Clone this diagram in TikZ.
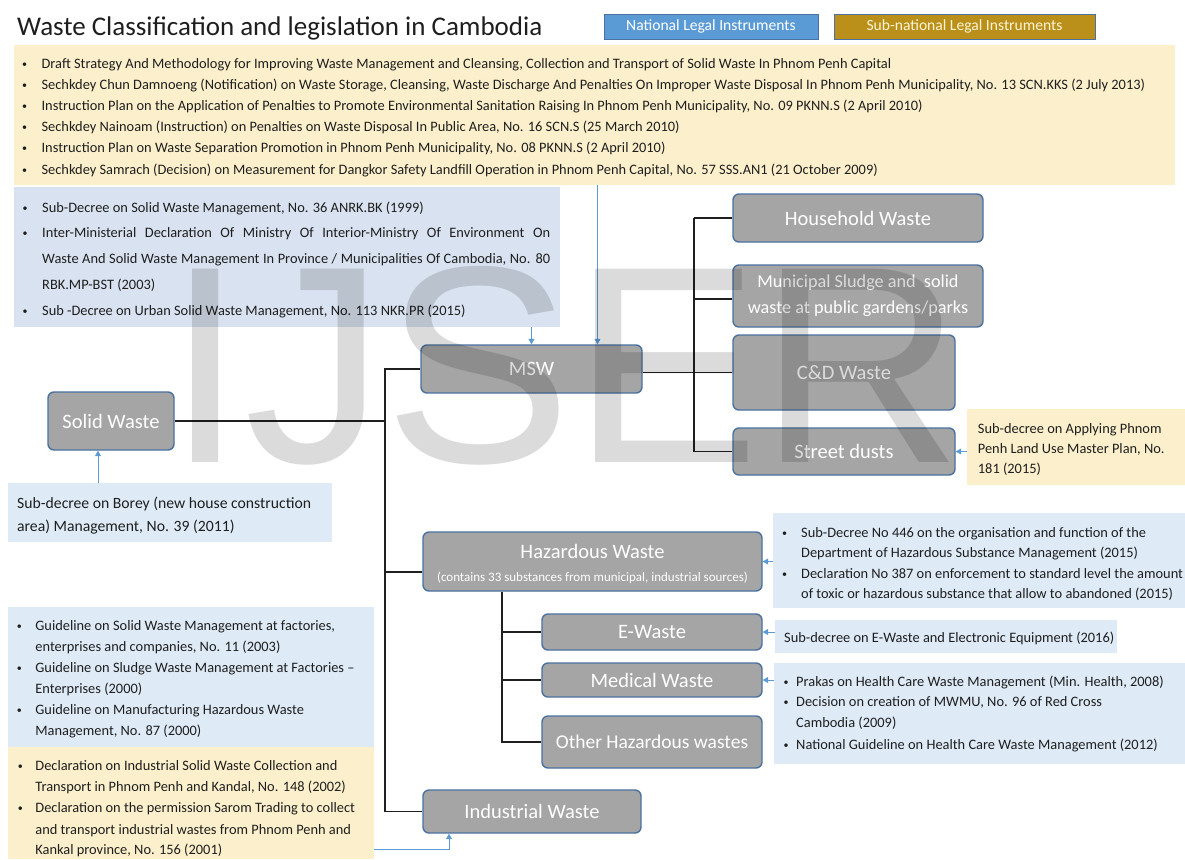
\documentclass[tikz,border=0pt]{standalone}
\usepackage{fontspec}
\setmainfont{Carlito}
\newfontfamily\wmfont{Liberation Sans}
\usetikzlibrary{arrows.meta}

\definecolor{boxgray}{HTML}{A5A5A5}
\definecolor{boxedge}{HTML}{4A71A0}
\definecolor{natblue}{HTML}{DEEBF7}
\definecolor{natgray}{HTML}{D9E2F0}
\definecolor{subbeige}{HTML}{FCF0CC}
\definecolor{linkblue}{HTML}{5B9BD5}
\definecolor{legblue}{HTML}{5B9BD5}
\definecolor{leggold}{HTML}{BA901A}
\definecolor{legtext}{HTML}{FFF5D6}
\definecolor{ink}{HTML}{1E1E1E}

% small bullet hanging to the left of a text line
\newcommand\bu[1]{\llap{\raisebox{1pt}{\fontsize{10}{10}\selectfont\textbullet}\hspace{#1}}}

\begin{document}
\begin{tikzpicture}[x=1pt,y=-1pt,
  wbox/.style={draw=boxedge, fill=boxgray, line width=1.4pt, rounded corners=6pt,
    text=white, inner sep=0pt, font=\fontsize{20.5}{24}\selectfont},
  lawbox/.style={fill=#1, draw=none, inner sep=0pt},
  legend/.style={fill=#1, draw=boxedge, line width=0.8pt, inner sep=0pt,
    font=\fontsize{15.6}{18}\selectfont},
  txt/.style={anchor=base west, inner sep=0pt, text=ink, font=\fontsize{14.4}{17}\selectfont},
  lbl/.style={anchor=base, inner sep=0pt, text=white},
  link/.style={draw=black!88, line width=1.1pt},
  cite/.style={draw=linkblue, line width=0.8pt, -{Triangle[length=5.5pt,width=6pt]}},
]
\useasboundingbox (0,0) rectangle (1185,859);
\fill[white] (0,0) rectangle (1185,859);

% ---- title and legend
\node[anchor=base west, inner sep=0pt, text=ink, font=\fontsize{27}{30}\selectfont]
  (title) at (17,36) {Waste Classification and legislation in Cambodia};
\node[legend=legblue, text=white, minimum width=214, minimum height=25]
  (leg-nat) at (711,26.5) {National Legal Instruments};
\node[legend=leggold, text=legtext, minimum width=261, minimum height=25]
  (leg-sub) at (964.5,26.5) {Sub-national Legal Instruments};

% ---- legal instrument panels
\node[lawbox=subbeige, minimum width=1161, minimum height=140] (pp-law) at (594.5,115) {};
\node[lawbox=natgray, minimum width=546, minimum height=140] (nat-law) at (287,257) {};
\node[lawbox=natblue, minimum width=324, minimum height=59] (borey) at (170,512.5) {};
\node[lawbox=subbeige, minimum width=218, minimum height=76] (landuse) at (1076,447) {};
\node[lawbox=natblue, minimum width=412, minimum height=95] (haz-law) at (979,560.5) {};
\node[lawbox=natblue, minimum width=342, minimum height=33] (ew-law) at (946,636.5) {};
\node[lawbox=natblue, minimum width=411, minimum height=101] (med-law) at (979.5,713.5) {};
\node[lawbox=natblue, minimum width=366, minimum height=140] (guide-law) at (191,677) {};
\node[lawbox=subbeige, minimum width=366, minimum height=112] (ind-law) at (191,803) {};

% Phnom Penh instruments
\node[txt] (pp1) at (41.4,68) {\bu{14.5pt}Draft Strategy And Methodology for Improving Waste Management and Cleansing, Collection and Transport of Solid Waste In Phnom Penh Capital};
\node[txt] (pp2) at (41.4,89.2) {\bu{14.5pt}Sechkdey Chun Damnoeng (Notification) on Waste Storage, Cleansing, Waste Discharge And Penalties On Improper Waste Disposal In Phnom Penh Municipality, No. 13 SCN.KKS (2 July 2013)};
\node[txt] (pp3) at (41.4,110.4) {\bu{14.5pt}Instruction Plan on the Application of Penalties to Promote Environmental Sanitation Raising In Phnom Penh Municipality, No. 09 PKNN.S (2 April 2010)};
\node[txt] (pp4) at (41.4,131.6) {\bu{14.5pt}Sechkdey Nainoam (Instruction) on Penalties on Waste Disposal In Public Area, No. 16 SCN.S (25 March 2010)};
\node[txt] (pp5) at (41.4,152.8) {\bu{14.5pt}Instruction Plan on Waste Separation Promotion in Phnom Penh Municipality, No. 08 PKNN.S (2 April 2010)};
\node[txt] (pp6) at (41.4,174) {\bu{14.5pt}Sechkdey Samrach (Decision) on Measurement for Dangkor Safety Landfill Operation in Phnom Penh Capital, No. 57 SSS.AN1 (21 October 2009)};

% national instruments on municipal solid waste
\node[txt] (nat1) at (42,212) {\bu{14.5pt}Sub-Decree on Solid Waste Management, No. 36 ANRK.BK (1999)};
\node[txt] (nat2) at (42,237.5) {\bu{14.5pt}\makebox[508pt][s]{Inter-Ministerial Declaration Of Ministry Of Interior-Ministry Of Environment On}};
\node[txt] (nat3) at (42,263.5) {\makebox[508pt][s]{Waste And Solid Waste Management In Province / Municipalities Of Cambodia, No. 80}};
\node[txt] (nat4) at (42,289) {RBK.MP-BST (2003)};
\node[txt] (nat5) at (42,315) {\bu{14.5pt}Sub -Decree on Urban Solid Waste Management, No. 113 NKR.PR (2015)};

% Borey
\node[txt, font=\fontsize{15.7}{19}\selectfont] (bor1) at (17,508) {Sub-decree on Borey (new house construction};
\node[txt, font=\fontsize{15.7}{19}\selectfont] (bor2) at (17,531) {area) Management, No. 39 (2011)};

% land use master plan
\node[txt] (lu1) at (977.7,433) {Sub-decree on Applying Phnom};
\node[txt] (lu2) at (977.7,453) {Penh Land Use Master Plan, No.};
\node[txt] (lu3) at (977.7,473.5) {181 (2015)};

% hazardous substances
\node[txt] (hl1) at (801,537) {\bu{14pt}Sub-Decree No 446 on the organisation and function of the};
\node[txt] (hl2) at (801,557) {Department of Hazardous Substance Management (2015)};
\node[txt] (hl3) at (801,578) {\bu{14pt}Declaration No 387 on enforcement to standard level the amount};
\node[txt] (hl4) at (801,598) {of toxic or hazardous substance that allow to abandoned (2015)};

% e-waste
\node[txt] (el1) at (784,642) {Sub-decree on E-Waste and Electronic Equipment (2016)};

% medical waste
\node[txt] (ml1) at (796,686) {\bu{7.5pt}Prakas on Health Care Waste Management (Min. Health, 2008)};
\node[txt] (ml2) at (796,706.5) {\bu{7.5pt}Decision on creation of MWMU, No. 96 of Red Cross};
\node[txt] (ml3) at (796,727) {Cambodia (2009)};
\node[txt] (ml4) at (796,749) {\bu{7.5pt}National Guideline on Health Care Waste Management (2012)};

% industrial guidelines
\node[txt] (gl1) at (35.2,630) {\bu{13.5pt}Guideline on Solid Waste Management at factories,};
\node[txt] (gl2) at (35.2,651) {enterprises and companies, No. 11 (2003)};
\node[txt] (gl3) at (35.2,672) {\bu{13.5pt}Guideline on Sludge Waste Management at Factories --};
\node[txt] (gl4) at (35.2,693) {Enterprises (2000)};
\node[txt] (gl5) at (35.2,714) {\bu{13.5pt}Guideline on Manufacturing Hazardous Waste};
\node[txt] (gl6) at (35.2,735) {Management, No. 87 (2000)};

% industrial declarations
\node[txt] (il1) at (35.2,770) {\bu{12.5pt}Declaration on Industrial Solid Waste Collection and};
\node[txt] (il2) at (35.2,791.5) {Transport in Phnom Penh and Kandal, No. 148 (2002)};
\node[txt] (il3) at (35.2,812) {\bu{12.5pt}Declaration on the permission Sarom Trading to collect};
\node[txt] (il4) at (35.2,834) {and transport industrial wastes from Phnom Penh and};
\node[txt] (il5) at (35.2,854) {Kankal province, No. 156 (2001)};

% ---- waste classes
\node[wbox, minimum width=126, minimum height=58] (sw) at (111,421) {Solid Waste};
\node[wbox, minimum width=221, minimum height=48] (msw) at (531.5,369) {MSW};
\node[wbox, minimum width=250, minimum height=48] (hh) at (858,218) {Household Waste};
\node[wbox, minimum width=250, minimum height=62, align=center, font=\fontsize{18.2}{26}\selectfont]
  (mun) at (858,296) {Municipal Sludge and\ \ solid\\waste at public gardens/parks};
\node[wbox, minimum width=222, minimum height=75] (cd) at (844,372.5) {C\&D Waste};
\node[wbox, minimum width=222, minimum height=47] (st) at (844,451.5) {Street dusts};
\node[wbox, minimum width=339, minimum height=59] (haz) at (592.5,561.5) {};
\node[lbl, font=\fontsize{20.5}{24}\selectfont] (haz-name) at (592.5,558) {Hazardous Waste};
\node[lbl, font=\fontsize{13}{15}\selectfont] (haz-note) at (592.5,581) {(contains 33 substances from municipal, industrial sources)};
\node[wbox, minimum width=220, minimum height=36] (ew) at (652,632) {E-Waste};
\node[wbox, minimum width=220, minimum height=34] (med) at (652,680) {Medical Waste};
\node[wbox, minimum width=220, minimum height=52, font=\fontsize{19.5}{23}\selectfont] (oth) at (652,742) {Other Hazardous wastes};
\node[wbox, minimum width=218, minimum height=43] (ind) at (532,811.5) {Industrial Waste};

% ---- classification tree
\coordinate (trunk) at (385,0);
\coordinate (mspine) at (694,0);
\coordinate (hspine) at (502,0);
\draw[link] (sw.east) -- (sw.east -| trunk);
\draw[link] (msw.west) -- (msw.west -| trunk) -- (ind.west -| trunk) -- (ind.west);
\coordinate (hazin) at ([yshift=-10.5pt]haz.west);
\draw[link] (hazin -| trunk) -- (hazin);
\draw[link] (msw.east |- cd.west) -- (cd.west);
\draw[link] (hh.west -| mspine) -- (st.west -| mspine);
\draw[link] (hh.west -| mspine) -- (hh.west);
\coordinate (munin) at ([yshift=-3pt]mun.west);
\draw[link] (munin -| mspine) -- (munin);
\draw[link] (st.west -| mspine) -- (st.west);
\draw[link] (haz.south -| hspine) -- (oth.west -| hspine) -- (oth.west);
\draw[link] (ew.west -| hspine) -- (ew.west);
\draw[link] (med.west -| hspine) -- (med.west);

% ---- instruments applying to each class
\draw[cite] (nat-law.south -| msw.north) -- (msw.north);
\coordinate (mswin) at ([xshift=66pt]msw.north);
\draw[cite] (pp-law.south -| mswin) -- (mswin);
\coordinate (swin) at ([xshift=-13pt]sw.south);
\draw[cite] (borey.north -| swin) -- (swin);
\draw[cite] (landuse.west |- st.east) -- (st.east);
\draw[cite] (haz-law.west |- haz.east) -- (haz.east);
\draw[cite] (ew-law.west |- ew.east) -- (ew.east);
\draw[cite] (med-law.west |- med.east) -- (med.east);
\coordinate (indout) at ([yshift=-46pt]ind-law.east);
\coordinate (indin) at ([xshift=-83pt]ind.south);
\draw[cite] (indout) -| (indin);

% ---- watermark
\node[anchor=base west, inner sep=0pt, text=black, text opacity=0.14,
  font=\wmfont\fontsize{281}{281}\selectfont] (wm) at (166,462) {IJSER};
\end{tikzpicture}
\end{document}
